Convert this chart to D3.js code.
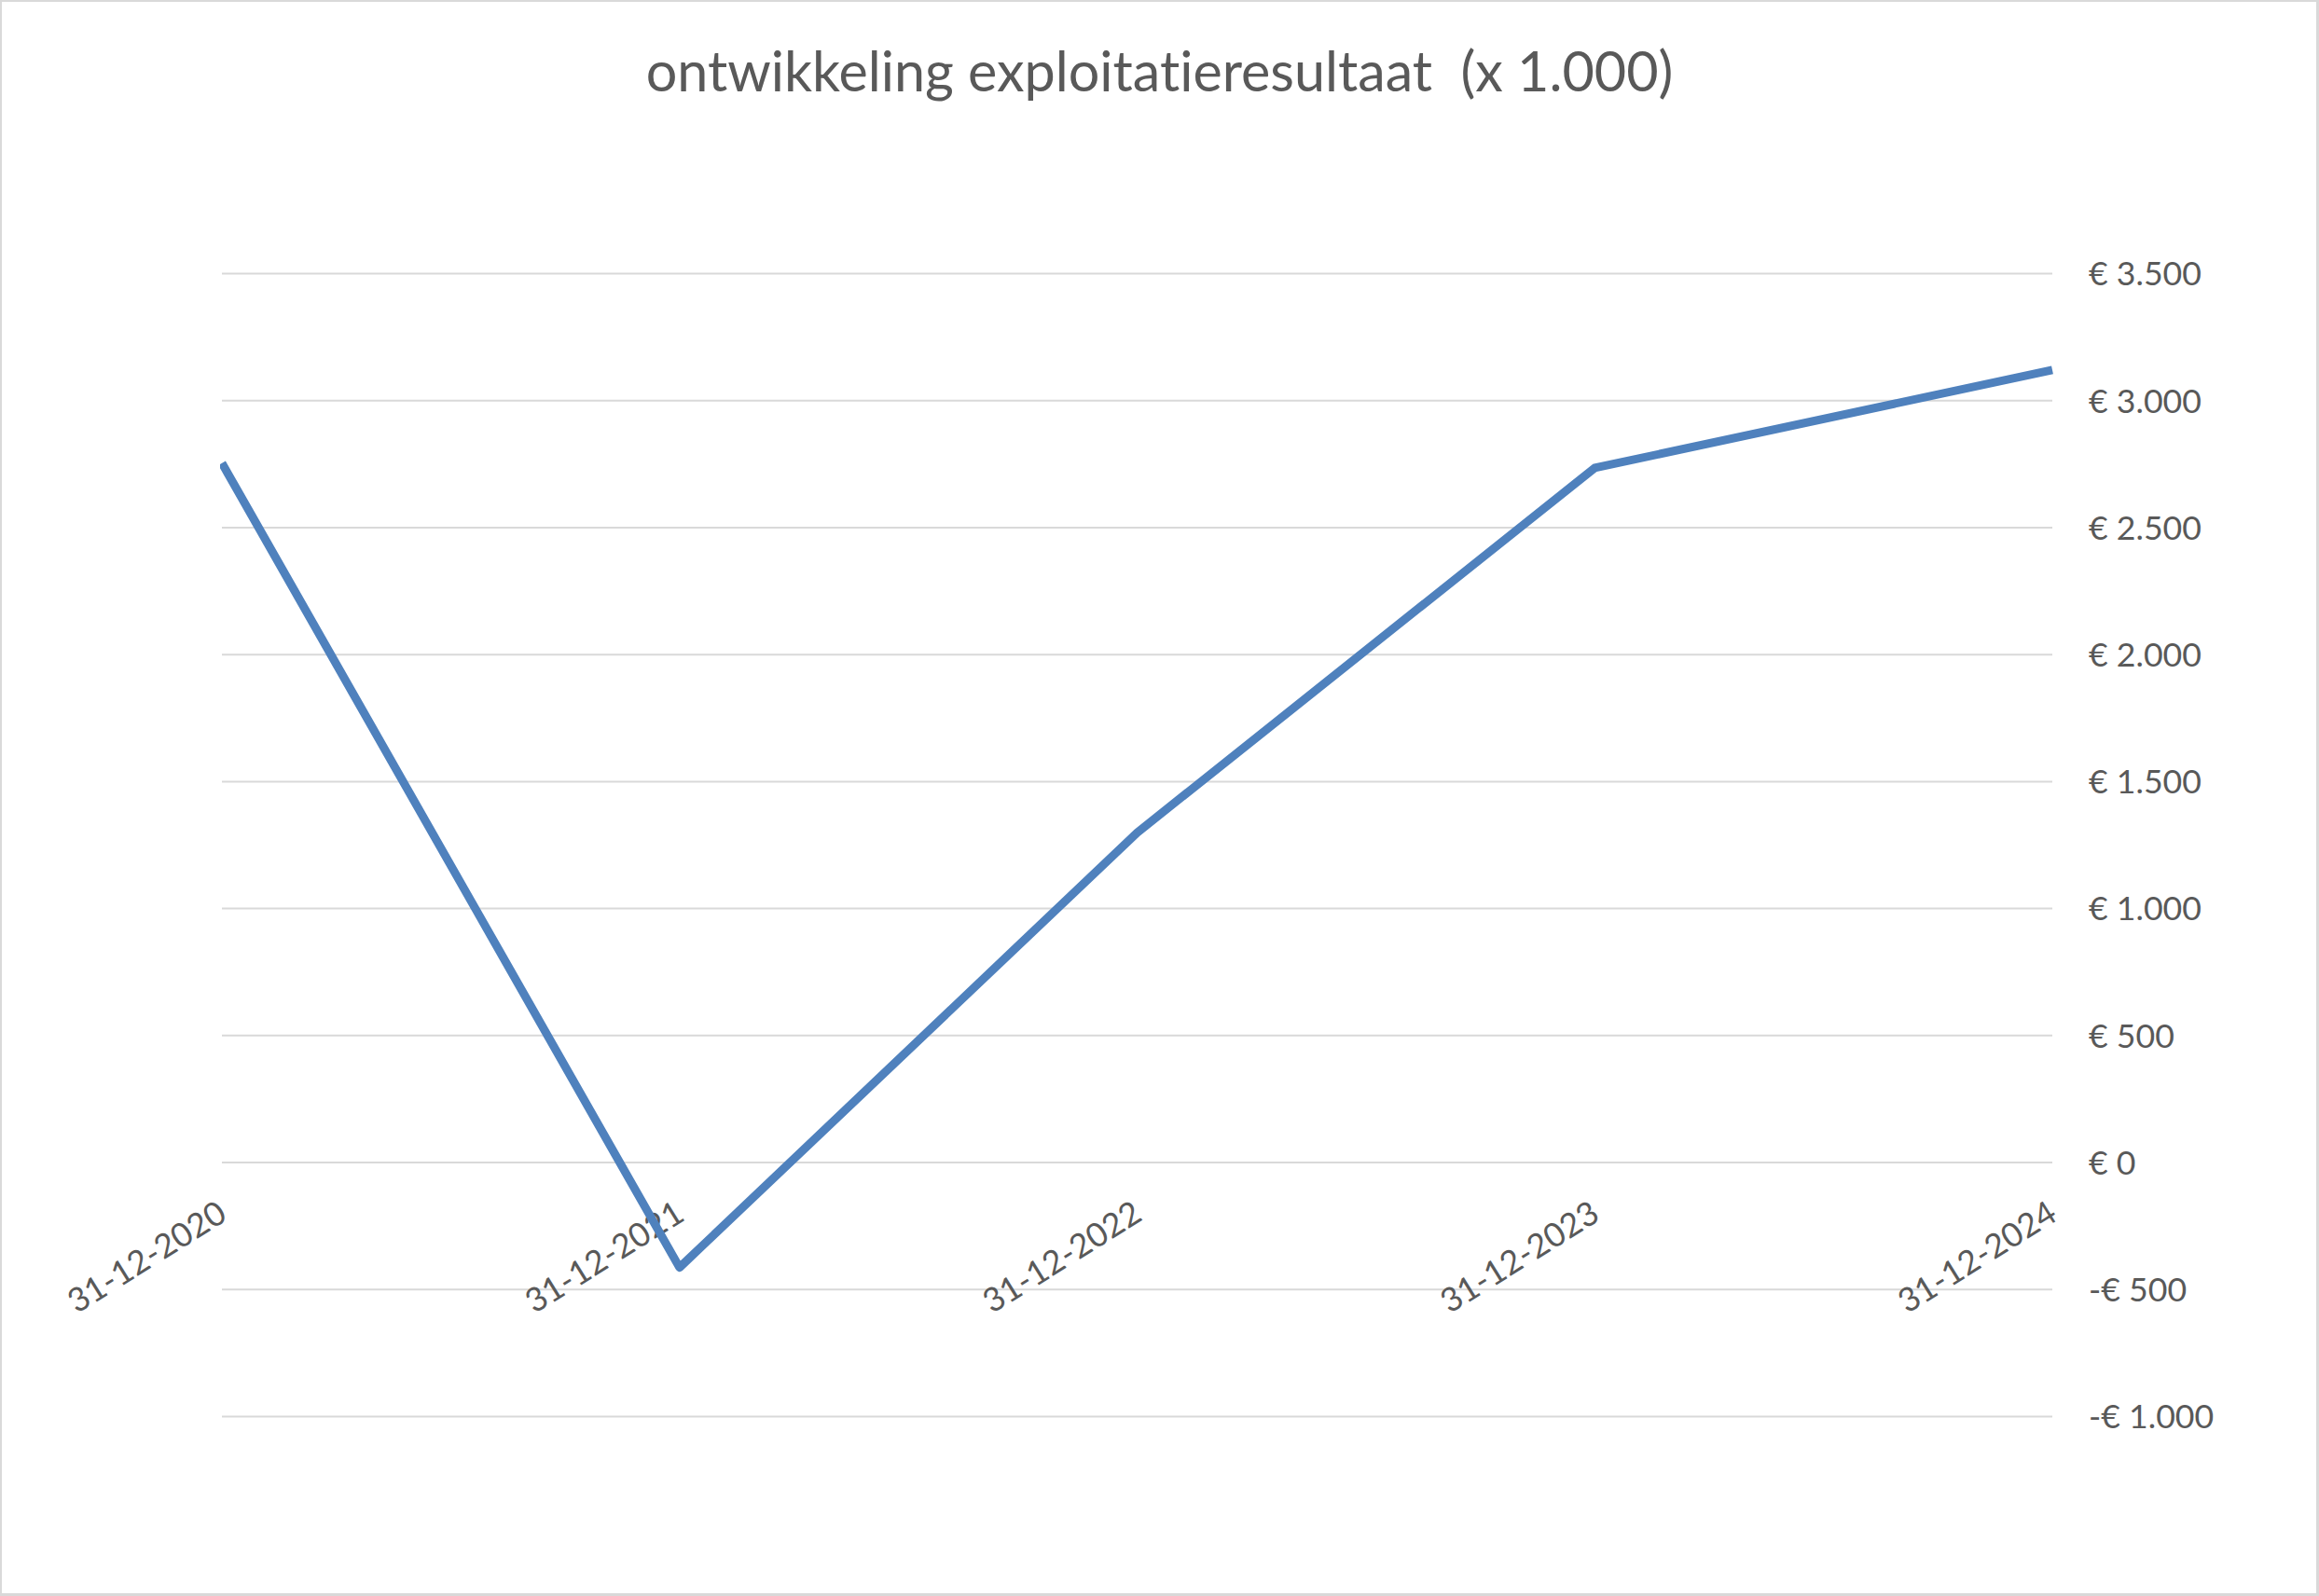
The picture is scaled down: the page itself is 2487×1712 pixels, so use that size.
<!DOCTYPE html>
<html>
<head>
<meta charset="utf-8">
<script src="https://cdn.jsdelivr.net/npm/d3@7"></script>
<style>
  html, body { margin: 0; padding: 0; background: #ffffff; }
  svg { display: block; }
  text { font-family: Lato, "Open Sans", "Noto Sans", sans-serif; fill: #595959;
         font-variant-ligatures: none; font-feature-settings: "liga" 0, "clig" 0; white-space: pre; }
</style>
</head>
<body>
<svg id="chart" width="2487" height="1712"></svg>
<script>
// ---- data ----
const title = "ontwikkeling exploitatieresultaat  (x 1.000)";
const categories = ["31-12-2020", "31-12-2021", "31-12-2022", "31-12-2023", "31-12-2024"];
const values = [2752, -415, 1297, 2733, 3119];
const yTickValues = [-1000, -500, 0, 500, 1000, 1500, 2000, 2500, 3000, 3500];
const yTickLabels = ["-€ 1.000", "-€ 500", "€ 0", "€ 500", "€ 1.000", "€ 1.500", "€ 2.000", "€ 2.500", "€ 3.000", "€ 3.500"];

// ---- layout ----
const W = 2487, H = 1712;
const plot = { left: 238, right: 2201, top: 293, bottom: 1519 };

const svg = d3.select("#chart");

// border
svg.append("rect").attr("x", 0).attr("y", 0).attr("width", W).attr("height", H).attr("fill", "#D9D9D9");
svg.append("rect").attr("x", 2).attr("y", 2).attr("width", W - 5).attr("height", H - 5).attr("fill", "#ffffff");

const x = d3.scalePoint().domain(categories).range([plot.left, plot.right]);
const y = d3.scaleLinear().domain([-1000, 3500]).range([plot.bottom, plot.top]);

// gridlines
const grid = svg.append("g")
  .attr("transform", `translate(${plot.left},0)`)
  .call(d3.axisLeft(y).tickValues(yTickValues).tickSize(-(plot.right - plot.left)).tickFormat(""));
grid.select(".domain").remove();
grid.selectAll(".tick line").attr("stroke", "#D9D9D9").attr("stroke-width", 2);

// y axis labels (right side)
const yAxis = svg.append("g")
  .attr("transform", `translate(2240,0)`)
  .call(d3.axisRight(y).tickValues(yTickValues).tickSize(0).tickPadding(0)
    .tickFormat(d => yTickLabels[yTickValues.indexOf(d)]));
yAxis.select(".domain").remove();
yAxis.selectAll("text")
  .attr("x", 0)
  .attr("dy", "0.36em")
  .attr("text-anchor", "start")
  .style("font-size", "36px")
  .style("font-family", "Lato, 'Open Sans', sans-serif")
  .attr("fill", "#595959");

// fit tick label font so "€ 3.500" ~ 121px wide
(function fitTicks() {
  const ref = yAxis.selectAll("text").filter(d => d === 3500).node();
  if (ref) {
    const w = ref.getComputedTextLength();
    const fs = 36 * 121 / w;
    yAxis.selectAll("text").style("font-size", fs + "px");
    window.__tickFs = fs;
  }
})();
const tickFs = window.__tickFs || 36;

// x axis labels (rotated)
const xAxis = svg.append("g")
  .attr("transform", `translate(0,1297)`)
  .call(d3.axisBottom(x).tickSize(0).tickPadding(0));
xAxis.select(".domain").remove();
xAxis.selectAll(".tick text")
  .attr("y", 0)
  .attr("dy", "0.36em")
  .attr("text-anchor", "end")
  .attr("transform", "rotate(-32)")
  .style("font-size", tickFs + "px")
  .style("font-family", "Lato, 'Open Sans', sans-serif")
  .attr("fill", "#595959");

// line
svg.append("clipPath").attr("id", "plotclip")
  .append("rect").attr("x", plot.left - 2).attr("y", 0).attr("width", plot.right - plot.left + 4).attr("height", H);

const line = d3.line().x((d, i) => x(categories[i])).y(d => y(d));
svg.append("path")
  .datum(values)
  .attr("clip-path", "url(#plotclip)")
  .attr("d", line)
  .attr("fill", "none")
  .attr("stroke", "#4F81BD")
  .attr("stroke-width", 9)
  .attr("stroke-linejoin", "round")
  .attr("stroke-linecap", "butt");

// title
const t = svg.append("text")
  .attr("x", W / 2)
  .attr("y", 98)
  .attr("text-anchor", "middle")
  .attr("xml:space", "preserve")
  .style("font-size", "56px")
  .attr("fill", "#595959")
  .text(title);
(function fitTitle() {
  const w = t.node().getComputedTextLength();
  t.style("font-size", (56 * 1102 / w) + "px");
})();
</script>
</body>
</html>
